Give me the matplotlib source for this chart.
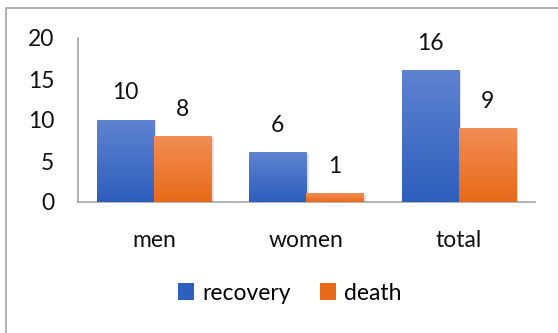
import matplotlib
matplotlib.use("Agg")
import matplotlib.pyplot as plt
import numpy as np
from matplotlib.colors import LinearSegmentedColormap
from matplotlib.patches import Rectangle

categories = ["men", "women", "total"]
recovery = [10, 6, 16]
death = [8, 1, 9]
series_names = ["recovery", "death"]

plt.rcParams['font.family'] = ['Lato', 'DejaVu Sans']
FS = 16.5
W, H = 558, 333
fig = plt.figure(figsize=(W/100, H/100), dpi=100)
ax = fig.add_axes([78/W, 1-202/H, (535-78)/W, (202-38)/H])

x = np.arange(len(categories))
bw = 0.375
blue_top, blue_bot = "#5E83D0", "#2E5EBE"
or_top, or_bot = "#F28D55", "#E86A18"
b1 = ax.bar(x - bw/2, recovery, bw, color=blue_bot, label=series_names[0], zorder=2)
b2 = ax.bar(x + bw/2, death, bw, color=or_bot, label=series_names[1], zorder=2)

grad = np.linspace(0, 1, 256).reshape(-1, 1)
for bars, top, bot in [(b1, blue_top, blue_bot), (b2, or_top, or_bot)]:
    cmap = LinearSegmentedColormap.from_list("g", [bot, top])
    for r in bars:
        x0, w, h = r.get_x(), r.get_width(), r.get_height()
        ax.add_patch(Rectangle((x0 + 0.015, 0), w, h - 0.1, color="#000000", alpha=0.12, zorder=1, lw=0))
        ax.imshow(grad, extent=[x0, x0 + w, 0, h], origin="lower", cmap=cmap,
                  aspect="auto", zorder=3)
        ax.annotate(f"{int(h)}", (x0 + w/2, h), xytext=(0, 12), textcoords="offset points",
                    ha="center", va="bottom", fontsize=FS, color="#111111")

ax.set_xlim(-0.5, 2.5)
ax.set_ylim(0, 20)
ax.set_yticks([0, 5, 10, 15, 20])
ax.set_xticks(x)
ax.set_xticklabels(categories)
for s in ["top", "right"]:
    ax.spines[s].set_visible(False)
for s in ["left", "bottom"]:
    ax.spines[s].set_color("#A6A6A6")
    ax.spines[s].set_linewidth(1.2)
ax.tick_params(axis="both", length=0, labelsize=FS, colors="#111111")
ax.tick_params(axis="y", pad=17)
ax.tick_params(axis="x", pad=20)

leg = fig.legend(handles=[b1, b2], labels=series_names, loc="center",
                 bbox_to_anchor=(290/W, 1-293/H), ncol=2, frameon=False,
                 fontsize=FS, handlelength=0.7, handleheight=0.7,
                 handletextpad=0.35, columnspacing=1.3)
for p, bot in zip(leg.legend_handles, [blue_bot, or_bot]):
    p.set_facecolor(bot)

fig.patches.append(Rectangle((6/W, -0.01), 1.0, 1 - 8/H + 0.01, transform=fig.transFigure,
                             fill=False, edgecolor="#A6A6A6", lw=1.2))

fig.savefig("out.png", dpi=100)
